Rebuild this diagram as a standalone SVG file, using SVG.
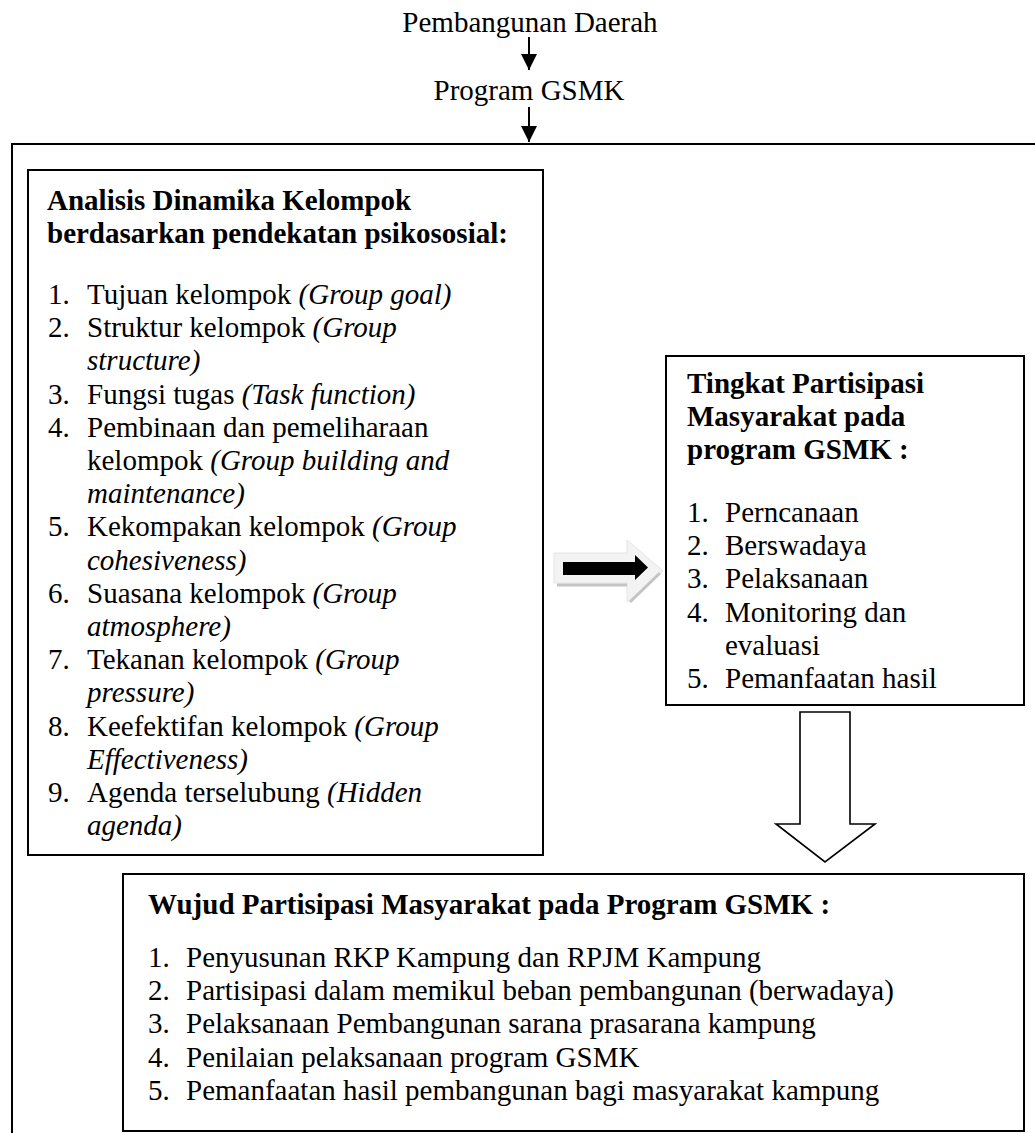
<svg xmlns="http://www.w3.org/2000/svg" width="1035" height="1133" viewBox="0 0 1035 1133">
<style>
  text { font-family: "Liberation Serif", "Times New Roman", serif; font-size: 29px; fill: #000; }
  .b { font-weight: bold; }
  .i { font-style: italic; }
  .box { fill: none; stroke: #000; stroke-width: 2; }
  .line { fill: none; stroke: #000; stroke-width: 2; }
</style>
<defs>
  <marker id="ah" viewBox="0 0 10 10" refX="10" refY="5" markerWidth="16" markerHeight="16" markerUnits="userSpaceOnUse" orient="auto">
    <path d="M0,0 L10,5 L0,10 Z" fill="#000"/>
  </marker>
</defs>
<rect width="1035" height="1133" fill="#fff"/>

<g id="n-pembangunan">
  <text x="530" y="32" text-anchor="middle">Pembangunan Daerah</text>
</g>
<g id="n-program">
  <text x="529" y="100" text-anchor="middle">Program GSMK</text>
</g>

<g id="n-frame">
  <path class="line" d="M12,1133 V144 H1035"/>
</g>

<g id="n-analisis">
  <rect class="box" x="28" y="170" width="515" height="685"/>
  <text class="b" x="47" y="210">Analisis Dinamika Kelompok</text>
  <text class="b" x="47" y="243">berdasarkan pendekatan psikososial:</text>
  <text x="48" y="304">1.</text><text x="87" y="304">Tujuan kelompok <tspan class="i">(Group goal)</tspan></text>
  <text x="48" y="337.2">2.</text><text x="87" y="337.2">Struktur kelompok <tspan class="i">(Group</tspan></text>
  <text class="i" x="87" y="370.4">structure)</text>
  <text x="48" y="403.6">3.</text><text x="87" y="403.6">Fungsi tugas <tspan class="i">(Task function)</tspan></text>
  <text x="48" y="436.8">4.</text><text x="87" y="436.8">Pembinaan dan pemeliharaan</text>
  <text x="87" y="470">kelompok <tspan class="i">(Group building and</tspan></text>
  <text class="i" x="87" y="503.2">maintenance)</text>
  <text x="48" y="536.4">5.</text><text x="87" y="536.4">Kekompakan kelompok <tspan class="i">(Group</tspan></text>
  <text class="i" x="87" y="569.6">cohesiveness)</text>
  <text x="48" y="602.8">6.</text><text x="87" y="602.8">Suasana kelompok <tspan class="i">(Group</tspan></text>
  <text class="i" x="87" y="636">atmosphere)</text>
  <text x="48" y="669.2">7.</text><text x="87" y="669.2">Tekanan kelompok <tspan class="i">(Group</tspan></text>
  <text class="i" x="87" y="702.4">pressure)</text>
  <text x="48" y="735.6">8.</text><text x="87" y="735.6">Keefektifan kelompok <tspan class="i">(Group</tspan></text>
  <text class="i" x="87" y="768.8">Effectiveness)</text>
  <text x="48" y="802">9.</text><text x="87" y="802">Agenda terselubung <tspan class="i">(Hidden</tspan></text>
  <text class="i" x="87" y="835.2">agenda)</text>
</g>

<g id="n-tingkat">
  <rect class="box" x="666" y="356" width="358" height="349"/>
  <text class="b" x="687" y="393">Tingkat Partisipasi</text>
  <text class="b" x="687" y="426">Masyarakat pada</text>
  <text class="b" x="687" y="459">program GSMK :</text>
  <text x="687" y="522">1.</text><text x="725" y="522">Perncanaan</text>
  <text x="687" y="555.2">2.</text><text x="725" y="555.2">Berswadaya</text>
  <text x="687" y="588.4">3.</text><text x="725" y="588.4">Pelaksanaan</text>
  <text x="687" y="621.6">4.</text><text x="725" y="621.6">Monitoring dan</text>
  <text x="725" y="654.8">evaluasi</text>
  <text x="687" y="688">5.</text><text x="725" y="688">Pemanfaatan hasil</text>
</g>

<g id="n-wujud">
  <rect class="box" x="123" y="874" width="901" height="257"/>
  <text class="b" x="148" y="914">Wujud Partisipasi Masyarakat pada Program GSMK :</text>
  <text x="148" y="967">1.</text><text x="186" y="967">Penyusunan RKP Kampung dan RPJM Kampung</text>
  <text x="148" y="1000.2">2.</text><text x="186" y="1000.2">Partisipasi dalam memikul beban pembangunan (berwadaya)</text>
  <text x="148" y="1033.4">3.</text><text x="186" y="1033.4">Pelaksanaan Pembangunan sarana prasarana kampung</text>
  <text x="148" y="1066.6">4.</text><text x="186" y="1066.6">Penilaian pelaksanaan program GSMK</text>
  <text x="148" y="1099.8">5.</text><text x="186" y="1099.8">Pemanfaatan hasil pembangunan bagi masyarakat kampung</text>
</g>

<g id="connectors">
  <line x1="529" y1="37" x2="529" y2="70" stroke="#000" stroke-width="2" marker-end="url(#ah)"/>
  <line x1="529" y1="107" x2="529" y2="142" stroke="#000" stroke-width="2" marker-end="url(#ah)"/>
  <!-- 3D block arrow right -->
  <g id="arrow-right">
    <polygon points="554,553 627,553 627,540 663,571 627,602 627,583 554,583" fill="#f3f3f3" stroke="#e4e4e4" stroke-width="1"/>
    <line x1="557" y1="585" x2="627" y2="585" stroke="#c4c4c4" stroke-width="3"/>
    <line x1="660" y1="573" x2="630" y2="602" stroke="#c4c4c4" stroke-width="3"/>
    <polygon points="563,562 635,562 635,555 648,567.5 635,580 635,575 563,575" fill="#000"/>
  </g>
  <!-- block arrow down -->
  <polygon id="arrow-down" points="800,712 850,712 850,824 875,824 825,862 776,824 800,824" fill="#fff" stroke="#000" stroke-width="1.6"/>
</g>
</svg>
